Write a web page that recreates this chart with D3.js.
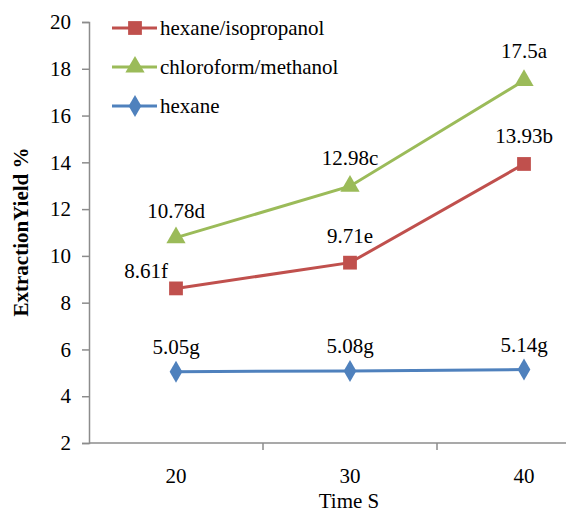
<!DOCTYPE html>
<html>
<head>
<meta charset="utf-8">
<script src="https://cdn.jsdelivr.net/npm/d3@7"></script>
<style>
  body { margin: 0; background: #fff; }
  svg text { font-family: "Liberation Serif", "Times New Roman", serif; fill: #000; }
</style>
</head>
<body>
<svg id="chart" width="566" height="513"></svg>
<script>
// chart values
var times = [20, 30, 40];
var hexIso = [8.61, 9.71, 13.93];
var chloMeth = [10.78, 12.98, 17.5];
var hexane = [5.05, 5.08, 5.14];
var hexIsoLabels = ['8.61f', '9.71e', '13.93b'];
var chloMethLabels = ['10.78d', '12.98c', '17.5a'];
var hexaneLabels = ['5.05g', '5.08g', '5.14g'];
var yTicks = [2, 4, 6, 8, 10, 12, 14, 16, 18, 20];

var series = [
    {name: 'hexane/isopropanol', values: hexIso, labels: hexIsoLabels, color: '#C0504D', symbol: d3.symbolSquare, size: 190},
    {name: 'chloroform/methanol', values: chloMeth, labels: chloMethLabels, color: '#9BBB59', symbol: d3.symbolTriangle, size: 160},
    {name: 'hexane', values: hexane, labels: hexaneLabels, color: '#4F81BD', symbol: d3.symbolDiamond, size: 140}
];

// label offsets relative to point (dx, dy), excel style placement
var labelOffsets = [
    [[-30, -10], [0, -20], [0, -21]],
    [[0, -20], [0, -21], [0, -22]],
    [[0, -18], [0, -18], [0, -18]]
];

var svg = d3.select('#chart').style('font-family', '"Liberation Serif", serif');
var mLeft = 89, mTop = 22, mBottom = 443;
var fontSize = '21px';

var x = d3.scaleBand().domain(times).range([mLeft, mLeft + 3 * 174]).padding(0);
var y = d3.scaleLinear().domain([2, 20]).range([mBottom, mTop]);
var cx = function(d){ return x(d) + x.bandwidth() / 2; };

// y axis
var yAxis = svg.append('g')
    .attr('transform', 'translate(' + mLeft + ',0)')
    .call(d3.axisLeft(y).tickValues(yTicks).tickSize(7).tickPadding(11).tickFormat(d3.format('d')));
yAxis.attr('font-family', null).attr('font-size', null);
yAxis.select('.domain').attr('stroke', '#8c8c8c').attr('stroke-width', 1.5);
yAxis.selectAll('.tick line').attr('stroke', '#8c8c8c').attr('stroke-width', 1.5);
yAxis.selectAll('.tick text')
    .style('font-size', fontSize)
    .attr('fill', '#000');

// x axis
svg.append('line')
    .attr('x1', mLeft).attr('x2', 566)
    .attr('y1', mBottom).attr('y2', mBottom)
    .attr('stroke', '#8c8c8c').attr('stroke-width', 1.5);
svg.selectAll('.xtick')
    .data(times.slice(1))
    .enter().append('line')
    .attr('class', 'xtick')
    .attr('x1', function(d){ return x(d); })
    .attr('x2', function(d){ return x(d); })
    .attr('y1', mBottom).attr('y2', mBottom + 7)
    .attr('stroke', '#8c8c8c').attr('stroke-width', 1.5);
svg.selectAll('.xlabel')
    .data(times)
    .enter().append('text')
    .attr('class', 'xlabel')
    .attr('x', cx)
    .attr('y', 483)
    .attr('text-anchor', 'middle')
    .style('font-size', fontSize)
    .text(function(d){ return d; });

// axis titles
svg.append('text')
    .attr('x', 349).attr('y', 508)
    .attr('text-anchor', 'middle')
    .style('font-size', fontSize)
    .text('Time S');
svg.append('text')
    .attr('transform', 'translate(28,232) rotate(-90)')
    .attr('text-anchor', 'middle')
    .style('font-size', fontSize)
    .style('font-weight', 'bold')
    .text('ExtractionYield %');

// lines + markers
var line = d3.line()
    .x(function(d, i){ return cx(times[i]); })
    .y(function(d){ return y(d); });

series.forEach(function(s, si){
    var g = svg.append('g');
    g.append('path')
        .attr('d', line(s.values))
        .attr('fill', 'none')
        .attr('stroke', s.color)
        .attr('stroke-width', 3);
    g.selectAll('path.marker')
        .data(s.values)
        .enter().append('path')
        .attr('class', 'marker')
        .attr('d', d3.symbol().type(s.symbol).size(s.size))
        .attr('transform', function(d, i){ return 'translate(' + cx(times[i]) + ',' + y(d) + ')'; })
        .attr('fill', s.color);
    g.selectAll('text')
        .data(s.values)
        .enter().append('text')
        .attr('x', function(d, i){ return cx(times[i]) + labelOffsets[si][i][0]; })
        .attr('y', function(d, i){ return y(d) + labelOffsets[si][i][1]; })
        .attr('text-anchor', 'middle')
        .style('font-size', fontSize)
        .text(function(d, i){ return s.labels[i]; });
});

// legend
var legend = svg.append('g');
var rows = legend.selectAll('g')
    .data(series)
    .enter().append('g')
    .attr('transform', function(d, i){ return 'translate(112,' + [28, 67, 106][i] + ')'; });
rows.append('line')
    .attr('x1', 0).attr('x2', 45)
    .attr('stroke', function(d){ return d.color; })
    .attr('stroke-width', 3);
rows.append('path')
    .attr('d', function(d){ return d3.symbol().type(d.symbol).size(d.size)(); })
    .attr('transform', 'translate(23,0)')
    .attr('fill', function(d){ return d.color; });
rows.append('text')
    .attr('x', 48)
    .attr('dy', '0.34em')
    .style('font-size', fontSize)
    .text(function(d){ return d.name; });
</script>
</body>
</html>
